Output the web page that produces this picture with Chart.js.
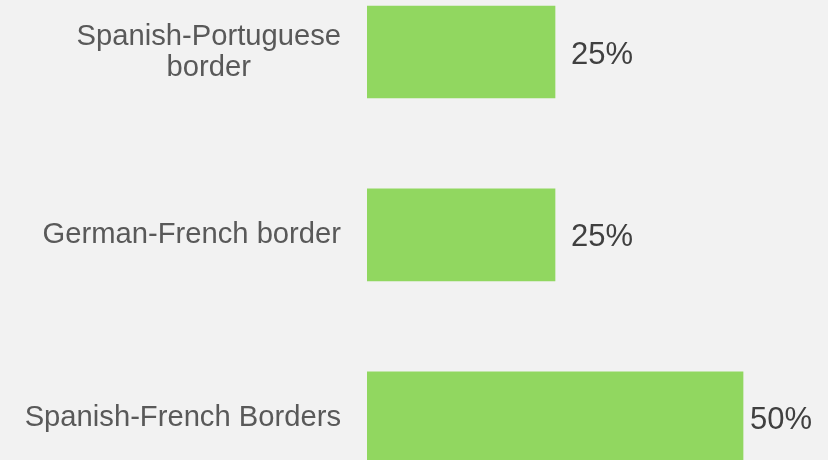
<!DOCTYPE html>
<html>
<head>
<meta charset="utf-8">
<script src="https://cdn.jsdelivr.net/npm/chart.js@4"></script>
<style>
  html, body { margin: 0; padding: 0; background: #f2f2f2; }
  #wrap { width: 828px; height: 460px; }
</style>
</head>
<body>
<div id="wrap"><canvas id="borderChart"></canvas></div>
<script>
// categories, top to bottom
const categories = [['Spanish-Portuguese', 'border'], ['German-French border'], ['Spanish-French Borders']];
const shares = [25, 25, 50];
const valueLabels = ['25%', '25%', '50%'];

const FONT = '"Liberation Sans", Arial, sans-serif';

// draws category names left of the bars and the percentages right of them
const labelPlugin = {
    id: 'labels',
    afterDatasetsDraw(chart) {
        const ctx = chart.ctx;
        const yScale = chart.scales.y;
        const area = chart.chartArea;
        const bars = chart.getDatasetMeta(0).data;

        ctx.save();
        ctx.textBaseline = 'middle';

        // category names
        ctx.font = '29.2px ' + FONT;
        ctx.fillStyle = '#595959';
        const right = area.left - 26;
        categories.forEach((lines, i) => {
            const cy = yScale.getPixelForValue(i);
            const lineH = 31;
            if (lines.length === 1) {
                ctx.textAlign = 'right';
                ctx.fillText(lines[0], right, cy);
            } else {
                const maxW = Math.max(...lines.map(l => ctx.measureText(l).width));
                const mid = right - maxW / 2;
                ctx.textAlign = 'center';
                lines.forEach((l, j) => {
                    ctx.fillText(l, mid, cy + (j - (lines.length - 1) / 2) * lineH);
                });
            }
        });

        // value labels
        ctx.font = '31px ' + FONT;
        ctx.fillStyle = '#404040';
        ctx.textAlign = 'left';
        bars.forEach((bar, i) => {
            const w = ctx.measureText(valueLabels[i]).width;
            let x = bar.x + 16;
            if (x + w > chart.width - 16) x = chart.width - 16 - w;
            ctx.fillText(valueLabels[i], x, bar.y + 3);
        });
        ctx.restore();
    }
};

new Chart(document.getElementById('borderChart'), {
    type: 'bar',
    data: {
        datasets: [{
            data: shares.map((v, i) => ({ x: v, y: i })),
            backgroundColor: '#91d760',
            borderWidth: 0,
            barThickness: 92
        }]
    },
    options: {
        indexAxis: 'y',
        responsive: true,
        maintainAspectRatio: false,
        animation: false,
        layout: { padding: { left: 367, right: 0, top: 0, bottom: 0 } },
        scales: {
            x: { type: 'linear', display: false, min: 0, max: 61.3 },
            y: { type: 'linear', display: false, reverse: true, offset: false, min: -0.284, max: 2.23 }
        },
        plugins: {
            legend: { display: false },
            tooltip: { enabled: false }
        }
    },
    plugins: [labelPlugin]
});
</script>
</body>
</html>
